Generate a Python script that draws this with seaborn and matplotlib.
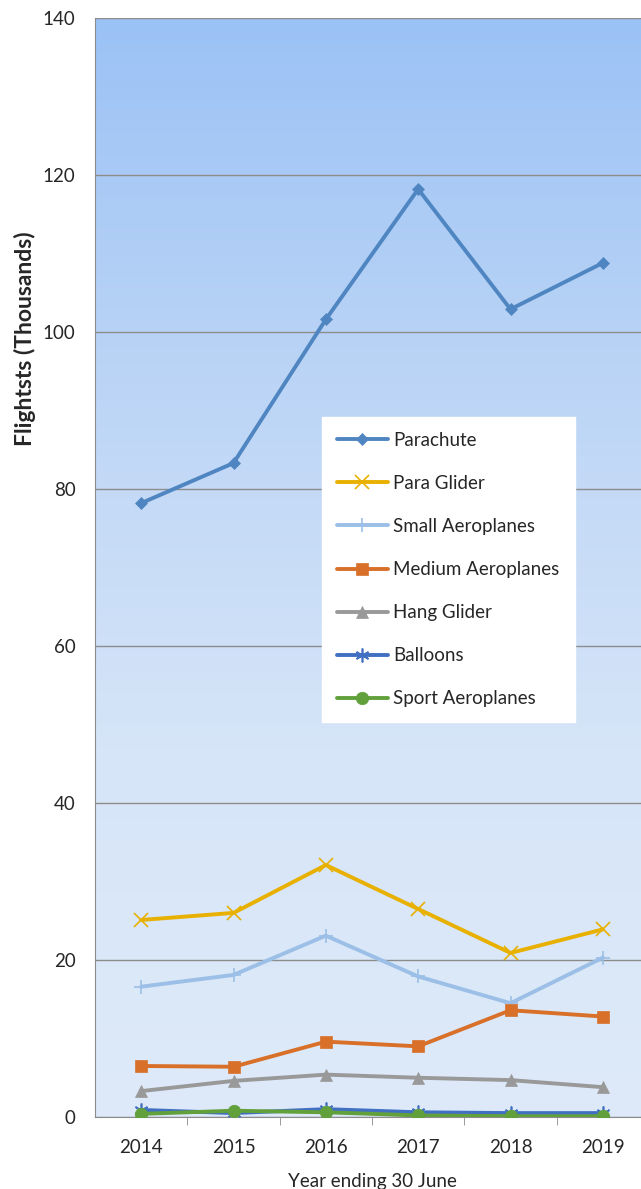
import numpy as np
import pandas as pd
import matplotlib
matplotlib.use("Agg")
import matplotlib.pyplot as plt
import seaborn as sns
from matplotlib.colors import LinearSegmentedColormap

# data (thousands of flights)
years = ["2014", "2015", "2016", "2017", "2018", "2019"]
parachute = [78.2, 83.3, 101.6, 118.2, 102.9, 108.8]
para_glider = [25.1, 26.0, 32.1, 26.5, 20.9, 23.9]
small_aero = [16.6, 18.1, 23.1, 17.9, 14.5, 20.3]
medium_aero = [6.5, 6.4, 9.6, 9.0, 13.6, 12.8]
hang_glider = [3.3, 4.6, 5.4, 5.0, 4.7, 3.8]
balloons = [0.9, 0.5, 1.0, 0.6, 0.5, 0.5]
sport_aero = [0.4, 0.8, 0.6, 0.2, 0.1, 0.1]

series = {
    "Parachute": parachute,
    "Para Glider": para_glider,
    "Small Aeroplanes": small_aero,
    "Medium Aeroplanes": medium_aero,
    "Hang Glider": hang_glider,
    "Balloons": balloons,
    "Sport Aeroplanes": sport_aero,
}
colors = {
    "Parachute": "#4F86C1",
    "Para Glider": "#E8B000",
    "Small Aeroplanes": "#9BBFE6",
    "Medium Aeroplanes": "#D8702A",
    "Hang Glider": "#999999",
    "Balloons": "#4170C2",
    "Sport Aeroplanes": "#62A03C",
}
markers = {
    "Parachute": ("D", 6),
    "Para Glider": ("x", 10),
    "Small Aeroplanes": ("+", 10),
    "Medium Aeroplanes": ("s", 9),
    "Hang Glider": ("^", 9),
    "Balloons": ((6, 2, 0), 10),
    "Sport Aeroplanes": ("o", 9),
}

rows = []
for name, vals in series.items():
    for i, v in enumerate(vals):
        rows.append({"series": name, "idx": i, "value": v})
df = pd.DataFrame(rows)

sns.set_style("white")
plt.rcParams["font.family"] = ["Lato", "DejaVu Sans"]

fig = plt.figure(figsize=(6.41, 11.89), dpi=100)
ax = fig.add_axes([95 / 641, 72 / 1189, 554 / 641, 1099 / 1189])

# gradient background
grad = LinearSegmentedColormap.from_list("bg", ["#DEEAF9", "#D6E5F8", "#BCD5F6", "#9BC2F5"])
ax.imshow(np.linspace(0, 1, 256).reshape(-1, 1), cmap=grad, aspect="auto",
          extent=(-0.5, 5.5, 0, 140), origin="lower", zorder=0)

for name in series:
    d = df[df["series"] == name]
    m, ms = markers[name]
    sns.lineplot(data=d, x="idx", y="value", ax=ax, color=colors[name], lw=2.8,
                 marker=m, markersize=ms, markeredgecolor=colors[name],
                 markeredgewidth=1.2 if m in ("x", "+") or isinstance(m, tuple) else 0.5,
                 label=name, zorder=3)

ax.set_xlim(-0.5, 5.5)
ax.set_ylim(0, 140)
ax.set_yticks(range(0, 141, 20))
ax.set_xticks(range(len(years)))
ax.set_xticklabels(years)
ax.set_xticks(np.arange(0.5, 5.5, 1), minor=True)
ax.yaxis.grid(True, color="#8C8C8C", lw=1.0, zorder=1)
ax.set_axisbelow(False)
for s in ["top", "right"]:
    ax.spines[s].set_visible(False)
ax.spines["left"].set_color("#8C8C8C")
ax.spines["bottom"].set_color("#8C8C8C")
ax.tick_params(axis="y", which="major", length=6, color="#8C8C8C", labelsize=13.5, pad=8)
ax.tick_params(axis="x", which="major", length=0, labelsize=13.5, pad=16)
ax.tick_params(axis="x", which="minor", length=6, color="#8C8C8C", direction="out")
ax.tick_params(axis="x", which="minor", bottom=True)
ax.set_xlabel("Year ending 30 June", fontsize=13.5, labelpad=12)
ax.set_ylabel("Flightsts (Thousands)", fontsize=16.5, fontweight="bold")
ax.yaxis.set_label_coords(-0.106, 0.708)

leg = ax.legend(loc="upper left", bbox_to_anchor=(0.41, 0.637), frameon=True,
                fancybox=False, framealpha=1, edgecolor="white", facecolor="white",
                fontsize=13.5, handlelength=2.7, labelspacing=1.39, borderpad=0.8,
                handletextpad=0.3, borderaxespad=0)
for line in leg.get_lines():
    line.set_linewidth(2.8)

fig.savefig("out.png", dpi=100)
